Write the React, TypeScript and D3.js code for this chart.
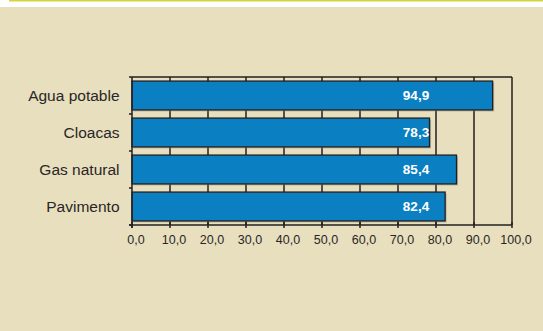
import React from "react";
import * as d3 from "d3";

const categories = ["Agua potable", "Cloacas", "Gas natural", "Pavimento"];
const values = [94.9, 78.3, 85.4, 82.4];
const ticks = [0, 10, 20, 30, 40, 50, 60, 70, 80, 90, 100];

const W = 543;
const H = 331;
const fmt = (v: number) => v.toFixed(1).replace(".", ",");

export default function App() {
  const left = 132, right = 512, top = 77, bottom = 225;
  const x = d3.scaleLinear().domain([0, 100]).range([left, right]);
  const y = d3.scaleBand().domain(categories).range([top, bottom]).paddingInner(0.22).paddingOuter(0.11);
  const bandStep = (bottom - top) / categories.length;
  const dark = "#231f20";
  const font = "Arial, 'Liberation Sans', Helvetica, sans-serif";
  return (
    <>
      <style>{"body{margin:0}"}</style>
      <svg width={W} height={H} style={{ display: "block" }}>
        <rect x={0} y={0} width={W} height={H} fill="#e7dfbd" />
        <rect x={0} y={0} width={W} height={7} fill="#ffffff" />
        <rect x={9} y={0} width={W - 9} height={1.5} fill="#d6d43a" />
        {/* gridlines */}
        {ticks.slice(1).map((t) => (
          <line key={"g" + t} x1={x(t)} x2={x(t)} y1={top} y2={bottom} stroke={dark} strokeWidth={1.5} />
        ))}
        <line x1={left} x2={right} y1={top} y2={top} stroke={dark} strokeWidth={1.5} />
        {/* bars */}
        {categories.map((c, i) => (
          <g key={c}>
            <rect x={x(0) + 1.5} y={(y(c) as number) + 1.5} width={x(values[i]) - x(0)} height={y.bandwidth()} fill="#8a8a80" opacity={0.5} />
            <rect x={x(0)} y={y(c)} width={x(values[i]) - x(0)} height={y.bandwidth()} fill="#0a7fc2" stroke={dark} strokeWidth={1.3} />
            <text x={416} y={(y(c) as number) + y.bandwidth() / 2} dy="0.36em" textAnchor="middle" fill="#ffffff" fontFamily={font} fontWeight="bold" fontSize={13.5}>
              {fmt(values[i])}
            </text>
            <text x={119.5} y={(y(c) as number) + y.bandwidth() / 2} dy="0.33em" textAnchor="end" fill="#2a2627" fontFamily={font} fontSize={15.5}>
              {c}
            </text>
          </g>
        ))}
        {/* axes */}
        <line x1={left} x2={left} y1={top} y2={bottom + 3} stroke={dark} strokeWidth={1.5} />
        <line x1={left - 3} x2={right} y1={bottom} y2={bottom} stroke={dark} strokeWidth={1.5} />
        {d3.range(categories.length + 1).map((i) => (
          <line key={"yt" + i} x1={left - 3} x2={left} y1={top + bandStep * i} y2={top + bandStep * i} stroke={dark} strokeWidth={1.5} />
        ))}
        {ticks.map((t) => (
          <g key={"t" + t}>
            <line x1={x(t)} x2={x(t)} y1={bottom - 3} y2={bottom + 3} stroke={dark} strokeWidth={1.5} />
            <text x={x(t) + 4} y={244} textAnchor="middle" fill="#2a2627" fontFamily={font} fontSize={12.5}>
              {fmt(t)}
            </text>
          </g>
        ))}
      </svg>
    </>
  );
}
